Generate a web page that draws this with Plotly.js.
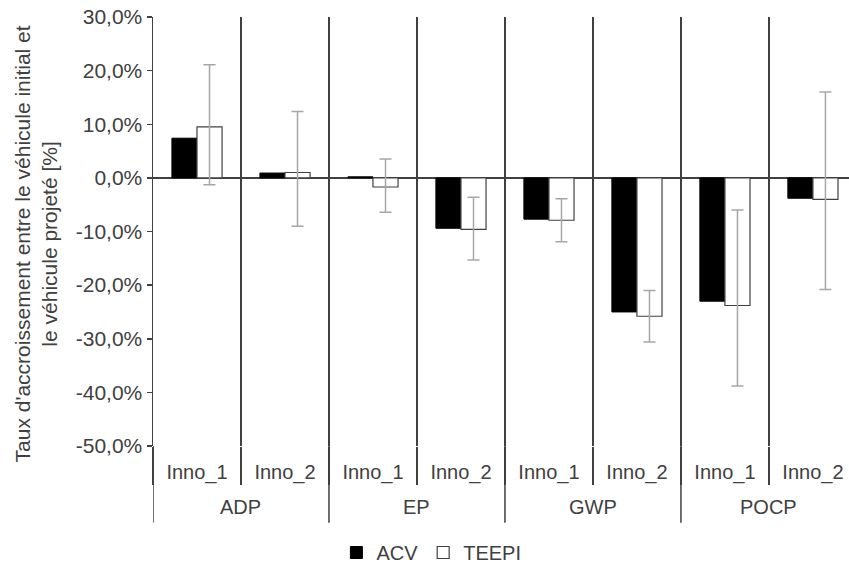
<!DOCTYPE html>
<html>
<head>
<meta charset="utf-8">
<script src="https://cdn.plot.ly/plotly-3.0.1.min.js"></script>
<style>
  html, body { margin: 0; padding: 0; background: #ffffff; }
  #chart { width: 849px; height: 572px; }
</style>
</head>
<body>
<div id="chart"></div>
<script>
// Categories (two-level axis)
var groups = ['ADP', 'ADP', 'EP', 'EP', 'GWP', 'GWP', 'POCP', 'POCP'];
var subs = ['Inno_1', 'Inno_2', 'Inno_1', 'Inno_2', 'Inno_1', 'Inno_2', 'Inno_1', 'Inno_2'];

// Series values (%)
var acv = [7.4, 0.9, 0.2, -9.4, -7.7, -25.0, -23.0, -3.8];
var teepi = [9.5, 1.0, -1.7, -9.6, -7.9, -25.8, -23.8, -4.0];

// TEEPI error bars (%)
var teepiErrPlus = [11.6, 11.4, 5.2, 6.0, 4.0, 4.8, 17.8, 20.0];
var teepiErrMinus = [10.8, 10.0, 4.7, 5.7, 4.0, 4.8, 15.0, 16.8];

// Y tick labels
var yTickVals = [30, 20, 10, 0, -10, -20, -30, -40, -50];
var yTickText = ['30,0%', '20,0%', '10,0%', '0,0%', '-10,0%', '-20,0%', '-30,0%', '-40,0%', '-50,0%'];

var yTitle = "Taux d'accroissement entre le véhicule initial et<br>le véhicule projeté [%]";

var dark = '#404040';
var font = 'Liberation Sans, Arial, sans-serif';

// positions along the category axis = index of each category
var idx = subs.map(function (_, i) { return i; });

// group spans derived from the groups array
var groupNames = [];
var groupStart = {};
var groupEnd = {};
groups.forEach(function (g, i) {
  if (!(g in groupStart)) { groupNames.push(g); groupStart[g] = i; }
  groupEnd[g] = i;
});

var annotations = groupNames.map(function (g) {
  return {
    xref: 'x', yref: 'paper',
    x: (groupStart[g] + groupEnd[g]) / 2,
    y: -0.142,
    xanchor: 'center', yanchor: 'middle',
    text: g, showarrow: false,
    font: { family: font, size: 20, color: dark }
  };
});
annotations.push({
  xref: 'paper', yref: 'paper',
  x: -0.168, y: 0.47,
  xanchor: 'center', yanchor: 'middle',
  text: yTitle, textangle: -90, showarrow: false,
  font: { family: font, size: 21, color: dark }
});

var shapes = [];
groupNames.forEach(function (g) {
  shapes.push({
    type: 'line', xref: 'x', yref: 'paper',
    x0: groupStart[g] - 0.5, x1: groupStart[g] - 0.5,
    y0: 0, y1: -0.179,
    line: { color: dark, width: 1.5 }
  });
});

var traces = [
  {
    type: 'bar',
    name: 'ACV',
    x: idx,
    y: acv,
    marker: { color: '#000000', line: { color: '#000000', width: 1 } },
    hoverinfo: 'skip'
  },
  {
    type: 'bar',
    name: 'TEEPI',
    x: idx,
    y: teepi,
    marker: { color: '#ffffff', line: { color: dark, width: 1.2 } },
    error_y: {
      type: 'data',
      symmetric: false,
      array: teepiErrPlus,
      arrayminus: teepiErrMinus,
      color: '#a6a6a6',
      thickness: 1.5,
      width: 6
    },
    hoverinfo: 'skip'
  }
];

var layout = {
  width: 849,
  height: 572,
  margin: { l: 153, r: 0, t: 17, b: 125 },
  paper_bgcolor: '#ffffff',
  plot_bgcolor: '#ffffff',
  font: { family: font, size: 20, color: dark },
  barmode: 'group',
  bargap: 0.43,
  bargroupgap: 0,
  showlegend: true,
  legend: {
    orientation: 'h',
    x: 0.4,
    xanchor: 'center',
    y: -0.247,
    yanchor: 'middle',
    font: { family: font, size: 20, color: dark },
    itemwidth: 30,
    traceorder: 'normal'
  },
  annotations: annotations,
  shapes: shapes,
  xaxis: {
    type: 'linear',
    range: [-0.5, 7.41],
    tickmode: 'array',
    tickvals: idx,
    ticktext: subs,
    ticks: '',
    ticklabelstandoff: 12,
    showgrid: false,
    showline: false,
    zeroline: false,
    tickfont: { family: font, size: 20, color: dark },
    minor: {
      tickmode: 'linear',
      tick0: -0.5,
      dtick: 1,
      showgrid: true,
      gridcolor: dark,
      gridwidth: 1.5,
      ticks: 'outside',
      ticklen: 38,
      tickcolor: dark,
      tickwidth: 1.5
    }
  },
  yaxis: {
    range: [-50, 30],
    tickmode: 'array',
    tickvals: yTickVals,
    ticktext: yTickText,
    ticks: 'outside',
    ticklen: 5,
    tickcolor: dark,
    tickwidth: 1.5,
    showline: true,
    linecolor: dark,
    linewidth: 1.5,
    showgrid: false,
    zeroline: true,
    zerolinecolor: dark,
    zerolinewidth: 1.5,
    tickfont: { family: font, size: 21, color: dark }
  }
};

Plotly.newPlot('chart', traces, layout, { staticPlot: true, displayModeBar: false });
</script>
</body>
</html>
